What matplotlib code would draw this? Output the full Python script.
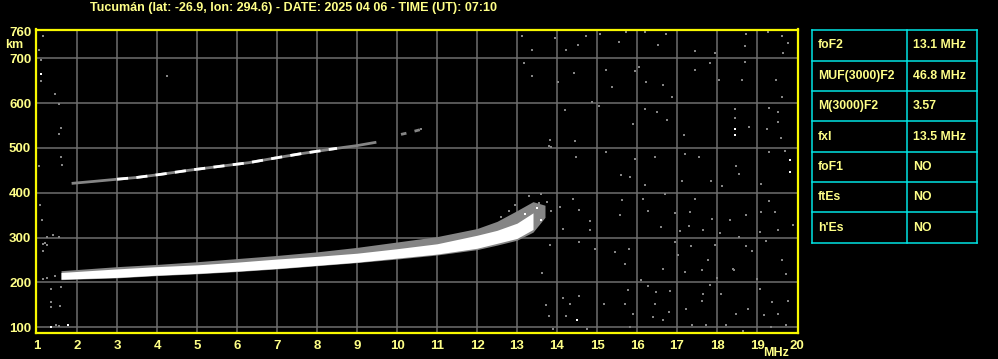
"""
Ionogram - Tucuman, 2025-04-06 07:10 UT
"""
import matplotlib
matplotlib.use("Agg")
import matplotlib.pyplot as plt

plt.rcParams["font.family"] = ["Liberation Sans", "DejaVu Sans"]
plt.rcParams["font.weight"] = "bold"

# ── Style ─────────────────────────────────────────────────────────────────────
BG = "#000000"
FRAME = "#f8f800"
LABEL = "#ffff88"
GRID = "#6e6e6e"
CYAN = "#00e4e4"
DOT = "#858585"
W, H = 998, 359

# ── Data ──────────────────────────────────────────────────────────────────────
freq_ticks = list(range(1, 21))
height_ticks = [100, 200, 300, 400, 500, 600, 700]

# main F trace (white core + grey fringe), MHz / km
trace_f = [1.6, 3.0, 4.0, 5.0, 6.0, 7.0, 8.0, 9.0, 10.0, 11.0, 12.0, 12.5, 13.0, 13.4]
trace_lo = [207, 211, 216, 220, 225, 231, 238, 245, 254, 263, 276, 287, 298, 318]
trace_hi = [222, 230, 235, 239, 245, 252, 258, 265, 275, 286, 305, 316, 332, 355]
fringe_f = [1.6, 3.0, 4.0, 5.0, 6.0, 7.0, 8.0, 9.0, 10.0, 11.0, 12.0, 12.5, 13.0, 13.4, 13.7]
fringe_hi = [226, 235, 240, 246, 253, 260, 268, 278, 290, 302, 320, 336, 360, 380, 372]
fringe_lo = [206, 210, 215, 219, 224, 230, 237, 244, 252, 261, 273, 283, 294, 312, 345]

# second-hop trace
hop_f = [1.9, 2.4, 3.0, 3.5, 4.1, 4.8, 5.5, 6.3, 7.0, 7.6, 8.5, 9.0, 9.45]
hop_h = [421, 425, 430, 434, 441, 450, 458, 467, 478, 487, 499, 505, 512]
hop2_f = [10.1, 10.3, 10.6]
hop2_h = [530, 534, 541]

# scattered noise echoes
noise_f = [13.13, 13.94, 13.38, 14.23, 14.52, 14.73, 15.07, 15.73, 15.54, 16.21, 16.73,
           16.53, 17.44, 17.94, 18.73, 18.69, 19.28, 19.63, 19.78, 19.65, 13.18, 13.38,
           14.42, 14.02, 15.23, 15.38, 15.96, 16.06, 16.23, 16.65, 16.88, 17.46, 17.82,
           18.05, 18.63, 18.69, 19.48, 19.63, 14.88, 14.20, 15.04, 16.21, 16.49, 15.90,
           16.76, 17.17, 18.44, 18.44, 18.81, 19.31, 19.53, 19.53, 19.26, 19.60, 13.86,
           13.83, 14.44, 14.48, 15.23, 15.94, 16.44, 17.19, 17.56, 18.48, 19.30, 19.69,
           15.61, 15.82, 16.21, 16.69, 17.13, 17.86, 18.13, 18.54, 19.11, 14.40, 15.63,
           16.15, 17.44, 18.32, 19.09, 19.30, 14.07, 14.54, 14.83, 15.58, 16.28, 16.94,
           17.33, 17.88, 18.73, 19.44, 19.53, 19.90, 14.15, 14.82, 16.59, 17.07, 17.30,
           17.65, 18.07, 18.55, 19.07, 13.82, 14.55, 14.94, 15.44, 15.79, 16.94, 17.03,
           17.34, 17.78, 17.94, 18.40, 18.73, 18.88, 19.23, 19.63, 13.63, 15.69, 16.11,
           16.65, 17.19, 17.63, 17.99, 18.43, 19.00, 19.73, 15.78, 16.28, 16.48, 16.83,
           17.83, 17.65, 18.09, 19.07, 19.38, 19.77, 14.15, 14.33, 14.55, 13.73, 13.80,
           14.23, 15.18, 15.69, 15.90, 16.44, 16.80, 17.23, 17.63, 18.48, 18.78, 19.17,
           19.53, 13.90, 14.75, 15.82, 16.40, 16.65, 17.38, 17.73, 18.23, 18.65, 19.36,
           19.73, 13.20, 13.45, 13.60, 13.75, 13.85, 13.30, 13.55, 12.80, 12.95, 12.60,
           1.14, 1.04, 1.09, 1.09, 1.45, 1.55, 1.59, 1.55, 1.24, 1.39, 1.55, 1.15, 1.20,
           1.25, 1.14, 1.45, 1.24, 1.15, 1.34, 1.59, 1.34, 1.47, 1.55, 1.78, 1.34, 1.58,
           1.34, 1.08, 1.12, 1.60, 1.62, 1.05, 4.25, 13.80, 10.60]
noise_h = [749, 745, 719, 719, 730, 749, 753, 758, 737, 758, 753,
           730, 717, 711, 753, 727, 758, 749, 734, 711, 690, 661,
           666, 648, 674, 636, 671, 681, 648, 640, 614, 674, 689,
           651, 652, 692, 652, 614, 603, 585, 594, 586, 581, 553,
           562, 528, 586, 567, 547, 588, 580, 558, 541, 522, 501,
           518, 516, 480, 490, 475, 479, 486, 479, 460, 490, 494,
           440, 436, 418, 396, 427, 426, 416, 442, 420, 385, 383,
           385, 387, 339, 357, 382, 368, 362, 337, 351, 359, 355,
           357, 341, 350, 357, 317, 328, 318, 317, 323, 315, 326,
           317, 310, 302, 313, 284, 291, 274, 267, 275, 291, 260,
           282, 249, 284, 229, 282, 271, 293, 249, 221, 240, 205,
           229, 223, 227, 210, 227, 207, 218, 183, 192, 179, 181,
           193, 174, 174, 185, 157, 159, 165, 152, 170, 149, 126,
           126, 152, 152, 130, 152, 133, 140, 159, 130, 140, 127,
           129, 96, 95, 100, 122, 115, 104, 104, 104, 91, 100,
           104, 355, 372, 398, 380, 360, 392, 378, 360, 372, 345,
           750, 719, 697, 650, 620, 597, 544, 530, 301, 305, 301, 285, 288,
           283, 270, 214, 209, 207, 185, 189, 145, 104, 103, 104, 156, 147,
           100, 372, 340, 480, 462, 460, 660, 505, 543]
bright_f = [18.44, 18.44, 19.83, 19.83, 14.50, 1.09, 1.34, 1.78, 13.2, 13.5, 13.6]
bright_h = [543, 528, 473, 446, 115, 664, 100, 104, 352, 366, 338]

# parameter table
param_names = ["foF2", "MUF(3000)F2", "M(3000)F2", "fxI", "foF1", "ftEs", "h'Es"]
param_values = ["13.1 MHz", "46.8 MHz", "3.57", "13.5 MHz", "NO", "NO", "NO"]

title = "Tucumán (lat: -26.9, lon: 294.6) - DATE: 2025 04 06 - TIME (UT): 07:10"

# ── Figure ────────────────────────────────────────────────────────────────────
fig = plt.figure(figsize=(W / 100, H / 100), dpi=100, facecolor=BG)

# overlay in pixel coordinates for table and free texts
ov = fig.add_axes([0, 0, 1, 1], facecolor=BG)
ov.set_xlim(0, W)
ov.set_ylim(H, 0)
ov.axis("off")

# main ionogram axes
x0, x1, y0, y1 = 36, 798, 29.5, 333
ax = fig.add_axes([x0 / W, 1 - y1 / H, (x1 - x0) / W, (y1 - y0) / H], facecolor=BG)
ax.set_xlim(0.975, 20.025)
ax.set_ylim(87, 764)
for v in freq_ticks[1:-1]:
    ax.axvline(v, color=GRID, lw=1.1, zorder=1)
for v in height_ticks:
    ax.axhline(v, color=GRID, lw=1.1, zorder=1)

ax.fill_between(fringe_f, fringe_lo, fringe_hi, color=DOT, lw=0, zorder=2)
ax.fill_between(trace_f, trace_lo, trace_hi, color="white", lw=0, zorder=3)
ax.plot(hop_f, hop_h, color=DOT, lw=2.0, zorder=2)
ax.plot(hop_f[2:11], hop_h[2:11], color="white", lw=2.0, dashes=(4, 3), zorder=3)
ax.plot(hop2_f, hop2_h, color=DOT, lw=2.0, dashes=(2, 3), zorder=2)
ax.scatter(noise_f, noise_h, marker="s", s=3.5, color=DOT, lw=0, zorder=2)
ax.scatter(bright_f, bright_h, marker="s", s=4.5, color="white", lw=0, zorder=3)

ax.set_xticks(freq_ticks)
ax.set_xticklabels([str(v) for v in freq_ticks])
ax.set_yticks(height_ticks + [760])
ax.set_yticklabels([str(v) for v in height_ticks] + ["760"])
ax.tick_params(length=0, colors=LABEL, labelsize=9.5)
ax.tick_params(axis="x", pad=5)
ax.tick_params(axis="y", pad=3.5)
for spine in ax.spines.values():
    spine.set_color(FRAME)
    spine.set_linewidth(1.6)

ov.text(776, 353, "MHz", color=LABEL, fontsize=9, ha="center", va="center")
ov.text(14, 45, "km", color=LABEL, fontsize=9, ha="center", va="center")
ov.text(294, 8, title, color=LABEL, fontsize=9, ha="center", va="center")

# ── Parameter table ───────────────────────────────────────────────────────────
tx0, tx1, tmid = 812, 977, 907
ty0, ty1 = 30.3, 242.7
n = len(param_names)
row_h = (ty1 - ty0) / n
for i in range(n + 1):
    yy = ty0 + i * row_h
    ov.plot([tx0, tx1], [yy, yy], color=CYAN, lw=1.1)
for xx in (tx0, tmid, tx1):
    ov.plot([xx, xx], [ty0, ty1], color=CYAN, lw=1.1)
for i, (name, val) in enumerate(zip(param_names, param_values)):
    yc = ty0 + (i + 0.5) * row_h
    ov.text(818, yc, name, color=LABEL, fontsize=8.8, va="center")
    ov.text(913, yc, val, color=LABEL, fontsize=8.8, va="center")

plt.savefig("out.png", dpi=100, facecolor=BG)
plt.close(fig)
